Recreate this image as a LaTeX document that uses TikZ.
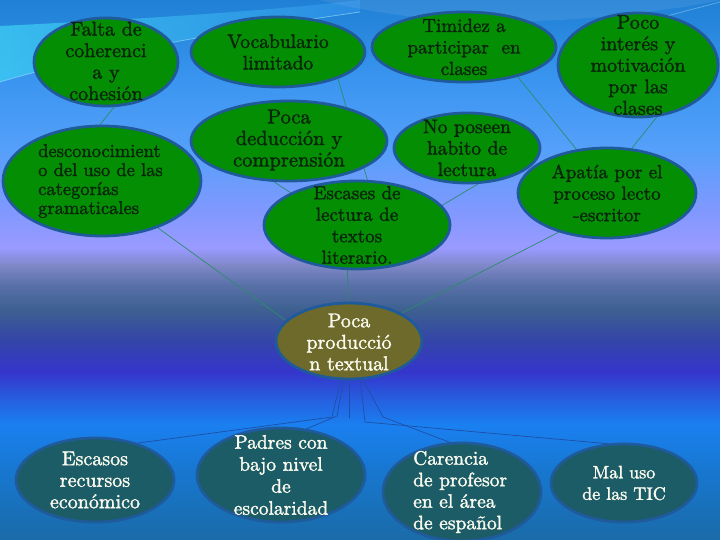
\documentclass[tikz,border=0pt]{standalone}
\usepackage{fontspec}
\newfontfamily\heavy{lmroman10-regular.otf}[FakeBold=1.7]
\usetikzlibrary{shapes.geometric}
\definecolor{bordc}{HTML}{1F5A9A}
\definecolor{greenf}{HTML}{048E04}
\definecolor{tealf}{HTML}{1B5C66}
\definecolor{olivef}{HTML}{6D6A2C}
\definecolor{darktxt}{HTML}{0A260A}
\definecolor{lighttxt}{HTML}{FAFAEE}
\definecolor{linkg}{HTML}{2C8C6A}
\definecolor{linkb}{HTML}{1E4FA8}
\definecolor{bA}{HTML}{1A6BA8}
\definecolor{bB}{HTML}{1777D0}
\definecolor{bC}{HTML}{1A80F0}
\definecolor{bD}{HTML}{2560E0}
\definecolor{bE}{HTML}{3535CC}
\definecolor{bF}{HTML}{3445A8}
\definecolor{bG}{HTML}{3D6090}
\definecolor{bH}{HTML}{5870A8}
\definecolor{bI}{HTML}{8088C8}
\definecolor{bJ}{HTML}{9A9AFF}
\definecolor{bK}{HTML}{8098FF}
\definecolor{bL}{HTML}{55A0FA}
\definecolor{bM}{HTML}{3A95F0}
\definecolor{bN}{HTML}{2585DA}
\definecolor{bO}{HTML}{2080D5}
\definecolor{swA}{HTML}{3CCAF2}
\definecolor{swB}{HTML}{2E8FE6}
\pgfdeclareverticalshading{bgshade}{100bp}{
 color(0bp)=(bA); color(25bp)=(bA); color(31.48bp)=(bB); color(35.65bp)=(bC);
 color(37.96bp)=(bD); color(40.56bp)=(bE); color(43.52bp)=(bF); color(46.3bp)=(bG);
 color(48.6bp)=(bH); color(50.46bp)=(bI); color(52.04bp)=(bJ); color(55.56bp)=(bK);
 color(61.1bp)=(bL); color(67.6bp)=(bM); color(73.15bp)=(bN); color(75bp)=(bO);
 color(100bp)=(bO)}
\pgfdeclarelayer{back}
\pgfdeclarelayer{links}
\pgfsetlayers{back,links,main}
\begin{document}
\begin{tikzpicture}[x=1pt,y=-1pt,
  bub/.style={ellipse, draw=bordc, line width=2.8pt, inner sep=0pt, fill=greenf},
  bubt/.style={bub, fill=tealf},
  bubo/.style={bub, fill=olivef},
  txt/.style={inner sep=0pt, text=darktxt, align=center},
  wtxt/.style={txt, text=lighttxt},
  link/.style={draw=linkg, line width=0.7pt},
  blink/.style={draw=linkb, line width=0.7pt}]
\useasboundingbox (0,0) rectangle (720,540);
% ellipses
\node[bub, minimum width=144pt, minimum height=88pt] (falta) at (106,62) {};
\node[bub, minimum width=198pt, minimum height=110pt] (descon) at (102,181) {};
\node[bub, minimum width=174pt, minimum height=70pt] (voc) at (278,52) {};
\node[bub, minimum width=184pt, minimum height=70pt] (tim) at (464,47) {};
\node[bub, minimum width=160pt, minimum height=104pt] (poco) at (638,65) {};
\node[bub, minimum width=196pt, minimum height=80pt] (deduc) at (289,141) {};
\node[bub, minimum width=146pt, minimum height=70pt] (nopos) at (467,148) {};
\node[bub, minimum width=186pt, minimum height=88pt] (escas) at (357,225) {};
\node[bub, minimum width=178pt, minimum height=90pt] (apat) at (607,193) {};
\node[bubo, minimum width=146pt, minimum height=76pt] (prod) at (349,341) {};
\node[bubt, minimum width=158pt, minimum height=84pt] (escasos) at (95,480) {};
\node[bubt, minimum width=168pt, minimum height=94pt] (padres) at (281,475) {};
\node[bubt, minimum width=158pt, minimum height=98pt] (carencia) at (462,492) {};
\node[bubt, minimum width=146pt, minimum height=78pt] (mal) at (624,483) {};
% texts
\node[txt, font=\heavy\fontsize{20}{21.5}\selectfont] (faltat) at (106,61) {Falta de\\coherenci\\a y\\cohesión};
\node[txt, align=left, anchor=west, font=\heavy\fontsize{18.5}{19}\selectfont] (descont) at (38,181) {desconocimient\\o del uso de las\\categorías\\gramaticales};
\node[txt, font=\heavy\fontsize{19.5}{21.5}\selectfont] (voct) at (278,52) {Vocabulario\\limitado};
\node[txt, font=\heavy\fontsize{19}{21.5}\selectfont] (timt) at (464,47) {Timidez a\\participar\ \ en\\clases};
\node[txt, font=\heavy\fontsize{20}{21.5}\selectfont] (pocot) at (638,65) {Poco\\interés y\\motivación\\por las\\clases};
\node[txt, font=\heavy\fontsize{20.5}{21.5}\selectfont] (deduct) at (289,140) {Poca\\deducción y\\comprensión};
\node[txt, font=\heavy\fontsize{19.5}{21.5}\selectfont] (nopost) at (467,148) {No poseen\\habito de\\lectura};
\node[txt, font=\heavy\fontsize{19}{21.5}\selectfont] (escast) at (357,225) {Escases de\\lectura de\\textos\\literario.};
\node[txt, font=\heavy\fontsize{19}{21.5}\selectfont] (apatt) at (607,193) {Apatía por el\\proceso lecto\\-escritor};
\node[wtxt, font=\heavy\fontsize{20}{21.5}\selectfont] (prodt) at (349,342) {Poca\\producció\\n textual};
\node[wtxt, font=\heavy\fontsize{20}{21.5}\selectfont] (escasost) at (95,480) {Escasos\\recursos\\económico};
\node[wtxt, font=\heavy\fontsize{19.5}{22}\selectfont] (padrest) at (281,475) {Padres con\\bajo nivel\\de\\escolaridad};
\node[wtxt, align=left, anchor=west, font=\heavy\fontsize{19.5}{21.5}\selectfont] (carenciat) at (413,492) {Carencia\\de profesor\\en el área\\de español};
\node[wtxt, font=\heavy\fontsize{18}{21.5}\selectfont] (malt) at (624,483) {Mal uso\\de las TIC};
\coordinate (vend) at (349,418);
\begin{pgfonlayer}{back}
\shade[shading=bgshade] (0,0) rectangle (720,540);
\shade[left color=swA, right color=swB, opacity=0.8] (0,26) .. controls (120,20) and (260,12) .. (360,0) -- (360,12) .. controls (200,35) and (80,58) .. (0,82) -- cycle;
\draw[white!60!cyan, opacity=0.6, line width=0.8pt] (0,82) .. controls (80,58) and (200,35) .. (360,12);
\fill[white, opacity=0.08] (320,0) .. controls (380,15) and (450,25) .. (560,20) .. controls (640,15) and (700,5) .. (720,0) -- cycle;
\draw[white!70!cyan, opacity=0.4, line width=0.8pt] (600,35) .. controls (650,20) and (690,10) .. (720,2);
\end{pgfonlayer}
\begin{pgfonlayer}{links}
\draw[link] (falta.280) -- (descon.92);
\draw[link] (voc.-24) -- (escas.77);
\draw[link] (deduc.250) -- (escas.154);
\draw[link] (nopos.287) -- (escas.13);
\draw[link] (tim.-29) -- (apat.125);
\draw[link] (poco.-70) -- (apat.61);
\draw[link] (descon.-40) -- (prod.162);
\draw[link] (escas.258) -- (prod.91);
\draw[link] (apat.219) -- (prod.28);
\draw[blink] (prod.258) -- (332,417) -- (escasos.41);
\draw[blink] (prod.262) -- (337,416) -- (padres.61);
\draw[blink] (prod.270) -- (vend);
\draw[blink] (prod.290) -- (383,417) -- (carencia.104);
\draw[blink] (prod.286) -- (365,422) -- (mal.113);
\end{pgfonlayer}
\end{tikzpicture}
\end{document}
